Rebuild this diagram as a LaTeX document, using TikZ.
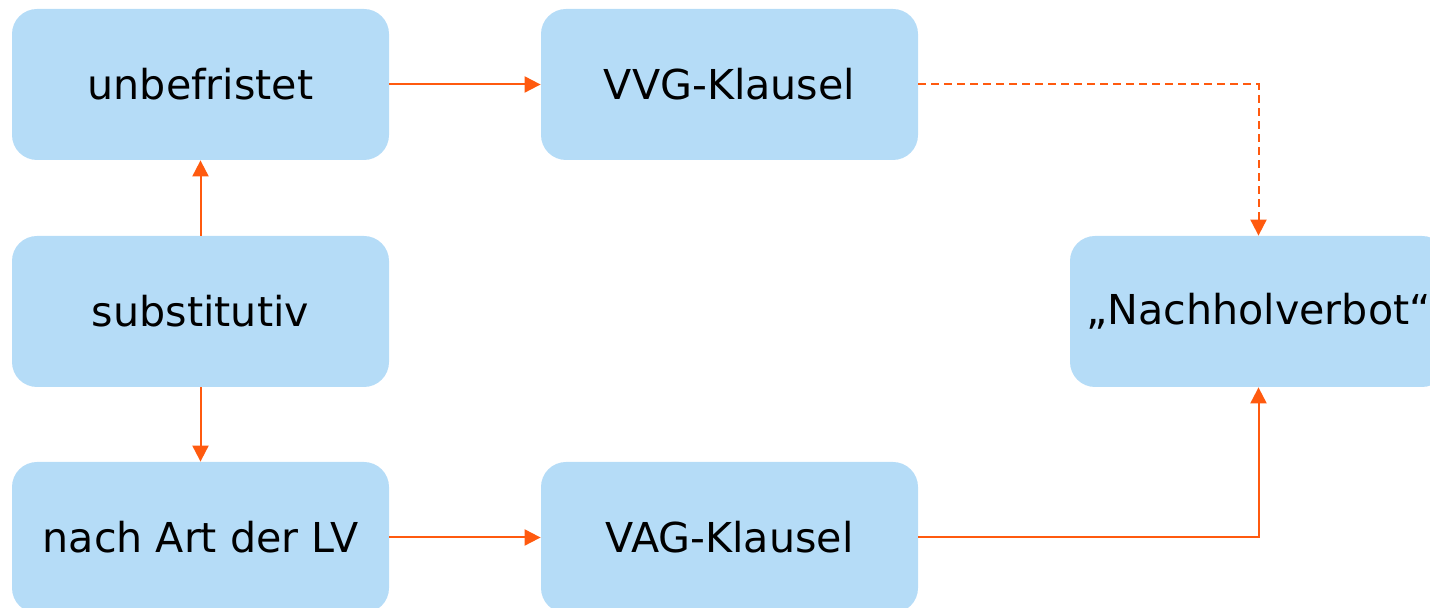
\documentclass[tikz,border=0pt]{standalone}
\usepackage{fontspec}
\setmainfont{DejaVu Sans}
\usetikzlibrary{arrows.meta}
\definecolor{boxblue}{HTML}{B5DCF7}
\definecolor{linkorange}{HTML}{FF5A0F}
\begin{document}
\begin{tikzpicture}
  [
    x = 0.5pt, y = -0.5pt,
    every node/.style = {font=\fontsize{20.6}{24}\selectfont},
    clause/.style     = {fill=boxblue, rounded corners=12.5pt,
                         minimum width=188.5pt, minimum height=75.5pt,
                         inner sep=0pt},
    link/.style       = {draw=linkorange, line width=1pt,
                         -{Triangle[length=8pt, width=8pt]}},
    maybe/.style      = {dash pattern=on 4pt off 2.5pt}
  ]
 \useasboundingbox (0,0) rectangle (1430,608);
 \node [clause] (unb) at (200.5,84.5)   {unbefristet};
 \node [clause] (sub) at (200.5,311.5)  {substitutiv};
 \node [clause] (lv)  at (200.5,537.5)  {nach Art der LV};
 \node [clause] (vvg) at (729.5,84.5)   {VVG-Klausel};
 \node [clause] (vag) at (729.5,537.5)  {VAG-Klausel};
 \node [clause] (nhv) at (1258.5,311.5) {„Nachholverbot“};
 \draw [link] (sub) -- (unb);
 \draw [link] (sub) -- (lv);
 \draw [link] (unb) -- (vvg);
 \draw [link] (lv) -- (vag);
 \draw [link, maybe] (vvg) -| (nhv);
 \draw [link] (vag) -| (nhv);
\end{tikzpicture}
\end{document}
